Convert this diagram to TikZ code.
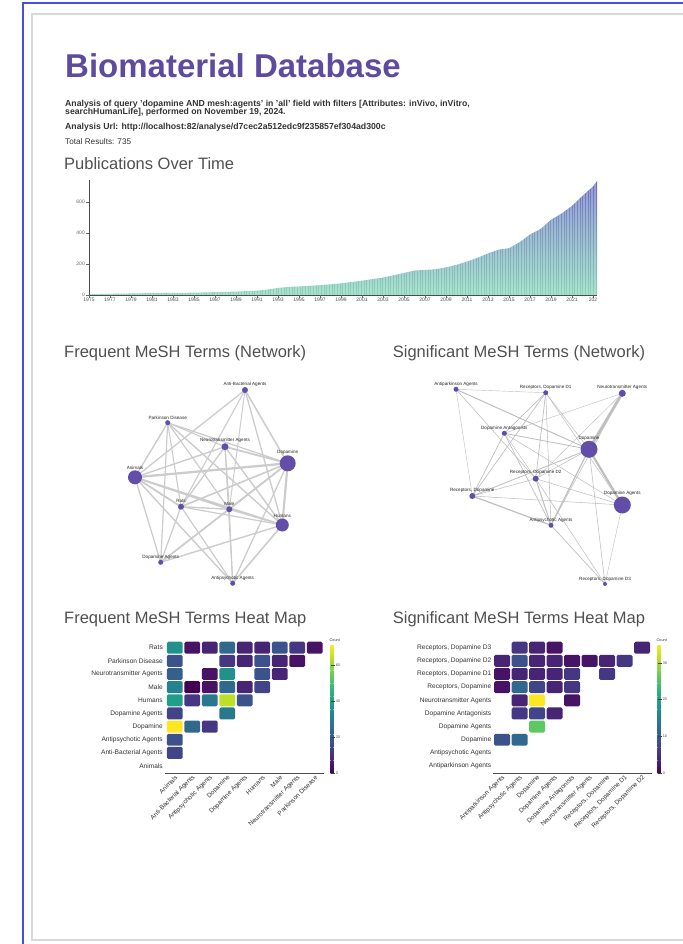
\documentclass[tikz,border=0pt]{standalone}
\usepackage{fontspec}
\setmainfont{Liberation Sans}
\usetikzlibrary{backgrounds}
\newcommand\pxf[1]{\fontsize{#1}{#1}\selectfont}
\definecolor{ttl}{RGB}{94,75,160}
\definecolor{hdr}{RGB}{80,80,80}
\definecolor{nodec}{RGB}{98,78,168}
\definecolor{frameblue}{RGB}{70,80,220}
\definecolor{vir0}{HTML}{440154}
\definecolor{vir1}{HTML}{471365}
\definecolor{vir2}{HTML}{482475}
\definecolor{vir3}{HTML}{453781}
\definecolor{vir4}{HTML}{414487}
\definecolor{vir5}{HTML}{3B528B}
\definecolor{vir6}{HTML}{355F8D}
\definecolor{vir7}{HTML}{31688E}
\definecolor{vir8}{HTML}{2A788E}
\definecolor{vir9}{HTML}{26828E}
\definecolor{vir10}{HTML}{21918C}
\definecolor{vir11}{HTML}{1F9E89}
\definecolor{vir12}{HTML}{22A884}
\definecolor{vir13}{HTML}{35B779}
\definecolor{vir14}{HTML}{44BF70}
\definecolor{vir15}{HTML}{5EC962}
\definecolor{vir16}{HTML}{7AD151}
\definecolor{vir17}{HTML}{9FDA3A}
\definecolor{vir18}{HTML}{BDDF26}
\definecolor{vir19}{HTML}{DFE318}
\definecolor{vir20}{HTML}{FDE725}
\definecolor{barlow}{HTML}{88D5B8}
\definecolor{barmid}{HTML}{5CC3C2}
\definecolor{bartop}{HTML}{6C6EC4}
\begin{document}
\begin{tikzpicture}[x=1pt,y=-1pt,
  ttlstyle/.style={anchor=base west, inner sep=0, text=ttl, font=\bfseries\pxf{33}},
  subline/.style={anchor=base west, inner sep=0, text=black!80, font=\bfseries\pxf{8.7}},
  plainline/.style={anchor=base west, inner sep=0, text=black!80, font=\pxf{8.2}},
  sect/.style={anchor=base west, inner sep=0, text=hdr, font=\pxf{16.5}},
  axline/.style={draw=black!70, line width=0.8},
  ylab/.style={anchor=east, inner sep=0.5, text=black!60, font=\pxf{5}},
  xlab/.style={anchor=north, inner sep=0.5, text=black!70, font=\pxf{5}},
  net/.style={circle, fill=nodec, inner sep=0pt},
  nlab/.style={font=\pxf{4.6}, text=black!85, inner sep=0.4pt},
  fedge/.style={draw=black!20, line cap=round},
  sedge/.style={draw=black!25, line cap=round},
  rowlab/.style={anchor=east, inner sep=0, text=black!80, font=\pxf{6.6}},
  collab/.style={anchor=east, rotate=45, inner sep=0, text=black!80, font=\pxf{6.4}},
  cbtick/.style={anchor=west, inner sep=0, text=black!70, font=\pxf{3.8}},
  cbtitle/.style={anchor=base west, inner sep=0, text=black!80, font=\pxf{3.8}}
]
\useasboundingbox (0,0) rectangle (682,944);
% frames
\draw[frameblue, line width=1.5] (23,944) -- (23,3) -- (690,3);
\draw[black!15, line width=2] (690,14) -- (32,14) -- (32,940) -- (690,940);

% header
\node[ttlstyle] (title) at (65,78) {Biomaterial Database};
\node[subline] (q1) at (65,107) {Analysis of query 'dopamine AND mesh:agents' in 'all' field with filters [Attributes: inVivo, inVitro,};
\node[subline] (q2) at (65,115) {searchHumanLife], performed on November 19, 2024.};
\node[subline] (url) at (65,130) {Analysis Url: http://localhost:82/analyse/d7cec2a512edc9f235857ef304ad300c};
\node[plainline] (tot) at (65,145) {Total Results: 735};

% publications chart
\node[sect] (pubt) at (64,170) {Publications Over Time};
\newcommand\pubcurve{(89,295) -- (89,294.2) -- (110,293.8) -- (152,293.1) -- (194,292.7) -- (236,291.6) -- (257,290.7) -- (267.5,289.6) -- (278,288.0) -- (288.5,286.9) -- (299,286.5) -- (320,285.2) -- (341,283.4) -- (362,280.7) -- (383,277.6) -- (404,273.0) -- (414.5,270.5) -- (435.5,269.3) -- (446,267.4) -- (456.5,264.8) -- (467,261.7) -- (477.5,257.8) -- (488,253.5) -- (498.5,249.7) -- (509,248.2) -- (519.5,242.3) -- (530,234.5) -- (540.5,229.1) -- (551,219.8) -- (561.5,213.6) -- (572,205.9) -- (582.5,195.8) -- (593,186.5) -- (597,181.1) -- (597,295) -- cycle}
\shade[bottom color=barlow, middle color=barmid, top color=bartop] \pubcurve;
\begin{scope}
\clip \pubcurve;
\foreach \xx in {90,91.6,...,597} \draw[white, opacity=0.3, line width=0.35] (\xx,180) -- (\xx,296);
\end{scope}
\draw[axline] (89,180) -- (89,295) -- (597,295);
\foreach \v in {0,200,400,600} {
  \draw[black!60, line width=0.4] (86,{295-\v*0.155}) -- (89,{295-\v*0.155});
  \node[ylab] at (85.5,{295-\v*0.155}) {\v};
}
\foreach \yr in {1975,1977,...,2021} {
  \draw[black!60, line width=0.4] ({89+(\yr-1975)*10.5},295) -- ({89+(\yr-1975)*10.5},297.5);
  \node[xlab] at ({89+(\yr-1975)*10.5},297.5) {\yr};
}
\draw[black!60, line width=0.4] (593,295) -- (593,297.5);
\node[xlab] at (593,297.5) {202};

% ===== Frequent network =====
\node[sect] (fnt) at (64,357.5) {Frequent MeSH Terms (Network)};
\node[net, minimum size=6, label={[nlab]above:Anti-Bacterial Agents}] (fAB) at (245,390) {};
\node[net, minimum size=5, label={[nlab]above:Parkinson Disease}] (fPD) at (167.7,422.7) {};
\node[net, minimum size=7, label={[nlab]above:Neurotransmitter Agents}] (fNA) at (225,446.7) {};
\node[net, minimum size=16, label={[nlab]above:Dopamine}] (fDO) at (287.7,463.3) {};
\node[net, minimum size=14, label={[nlab]above:Animals}] (fAN) at (135,477.3) {};
\node[net, minimum size=6, label={[nlab]above:Rats}] (fRA) at (181,506.7) {};
\node[net, minimum size=6, label={[nlab]above:Male}] (fMA) at (229.3,509.3) {};
\node[net, minimum size=13, label={[nlab]above:Humans}] (fHU) at (282.3,525) {};
\node[net, minimum size=5, label={[nlab]above:Dopamine Agents}] (fDA) at (160.7,562.3) {};
\node[net, minimum size=5, label={[nlab]above:Antipsychotic Agents}] (fAP) at (232.7,583.3) {};
\begin{pgfonlayer}{background}
\foreach \a/\b/\w in {fRA/fAN/1.8, fRA/fAB/1.1, fRA/fAP/1.2, fRA/fDO/1.6, fRA/fDA/1.25, fRA/fHU/1.2, fRA/fMA/1.4, fRA/fNA/1.3, fRA/fPD/1.1,
  fPD/fAN/1.4, fPD/fDO/1.25, fPD/fDA/1.2, fPD/fHU/1.4, fPD/fMA/1.2, fPD/fNA/1.1,
  fNA/fAN/1.4, fNA/fAP/1.1, fNA/fDO/1.8, fNA/fHU/1.4, fNA/fMA/1.2,
  fMA/fAN/1.7, fMA/fAB/1.0, fMA/fAP/1.1, fMA/fDO/1.6, fMA/fDA/1.2, fMA/fHU/1.3,
  fHU/fAN/1.8, fHU/fAB/1.3, fHU/fAP/1.6, fHU/fDO/2.2, fHU/fDA/1.4,
  fDA/fAN/1.3, fDA/fDO/1.6, fDO/fAN/2.3, fDO/fAB/1.5, fDO/fAP/1.3,
  fAP/fAN/1.4, fAB/fAN/1.3}
  \draw[fedge, line width=\w] (\a.center) -- (\b.center);
\end{pgfonlayer}

% ===== Significant network =====
\node[sect] (snt) at (392.7,357.5) {Significant MeSH Terms (Network)};
\node[net, minimum size=5, label={[nlab]above:Antiparkinson Agents}] (sAPK) at (456,389.3) {};
\node[net, minimum size=5, label={[nlab]above:{Receptors, Dopamine D1}}] (sD1) at (545.7,392.7) {};
\node[net, minimum size=7, label={[nlab]above:Neurotransmitter Agents}] (sNT) at (622.3,393.3) {};
\node[net, minimum size=5, label={[nlab]above:Dopamine Antagonists}] (sDAN) at (504.3,433.3) {};
\node[net, minimum size=17, label={[nlab]above:Dopamine}] (sDOP) at (589,449.3) {};
\node[net, minimum size=6, label={[nlab]above:{Receptors, Dopamine D2}}] (sD2) at (535.7,478.7) {};
\node[net, minimum size=6, label={[nlab]above:{Receptors, Dopamine}}] (sRD) at (472.3,496) {};
\node[net, minimum size=17, label={[nlab]above:Dopamine Agents}] (sDAG) at (622.3,505) {};
\node[net, minimum size=5, label={[nlab]above:Antipsychotic Agents}] (sAPS) at (551,525.3) {};
\node[net, minimum size=4, label={[nlab]above:{Receptors, Dopamine D3}}] (sD3) at (605,584) {};
\begin{pgfonlayer}{background}
\foreach \a/\b/\w in {sD3/sAPS/0.7, sD3/sDOP/0.55, sD3/sDAG/0.42, sD3/sD2/0.55,
  sD2/sAPK/0.55, sD2/sAPS/1.0, sD2/sDOP/0.55, sD2/sDAG/0.55, sD2/sDAN/0.42, sD2/sNT/0.42, sD2/sRD/0.55, sD2/sD1/0.7,
  sD1/sAPK/0.42, sD1/sAPS/0.55, sD1/sDOP/0.55, sD1/sDAG/0.55, sD1/sDAN/0.7, sD1/sRD/0.7,
  sRD/sAPK/0.42, sRD/sAPS/1.2, sRD/sDOP/0.85, sRD/sDAG/0.55, sRD/sDAN/0.7,
  sNT/sAPS/0.55, sNT/sDOP/2.8, sNT/sDAN/0.42,
  sDAN/sAPS/0.7, sDAN/sDOP/0.85, sDAN/sDAG/0.55,
  sDAG/sDOP/2.2, sDOP/sAPK/1.0, sDOP/sAPS/1.2}
  \draw[sedge, line width=\w] (\a.center) -- (\b.center);
\end{pgfonlayer}

% ===== Frequent heat map =====
\node[sect] (fht) at (64,623.3) {Frequent MeSH Terms Heat Map};
\foreach \r/\c/\v in {0/0/10, 0/1/1, 0/2/2, 0/3/7, 0/4/2, 0/5/2, 0/6/5, 0/7/3, 0/8/1,
  1/0/5, 1/3/3, 1/4/2, 1/5/5, 1/6/2, 1/7/1,
  2/0/6, 2/2/1, 2/3/10, 2/5/5, 2/6/2,
  3/0/9, 3/1/0, 3/2/1, 3/3/7, 3/4/2, 3/5/4,
  4/0/11, 4/1/3, 4/2/8, 4/3/18, 4/4/5,
  5/0/4, 5/3/8,
  6/0/20, 6/1/7, 6/2/3,
  7/0/5, 8/0/4}
  \fill[fill=vir\v, rounded corners=1.5] ({166+\c*17.5+0.8},{641.1+\r*13.15+0.6}) rectangle ++(15.9,11.95);
\foreach \n [count=\i from 0] in {Rats, Parkinson Disease, Neurotransmitter Agents, Male, Humans, Dopamine Agents, Dopamine, Antipsychotic Agents, Anti-Bacterial Agents, Animals}
  \node[rowlab] (fr\i) at (163,{647.7+\i*13.15}) {\n};
\draw[black!70, line width=0.5] (165,773) -- (323.5,773);
\foreach \n [count=\i from 0] in {Animals, Anti-Bacterial Agents, Antipsychotic Agents, Dopamine, Dopamine Agents, Humans, Male, Neurotransmitter Agents, Parkinson Disease}
  \node[collab] (fc\i) at ({166+\i*17.5+10.5},776.5) {\n};
\foreach \k [evaluate=\k as \ca using int(2*\k), evaluate=\k as \cb using int(2*\k+2)] in {0,...,9}
  \shade[bottom color=vir\ca, top color=vir\cb] (330.5,{773-\k*12.8+0.2}) rectangle (333.3,{773-(\k+1)*12.8});
\foreach \v in {0,20,40,60} {
  \draw[black!75, line width=0.5] (330.5,{773-\v*1.795}) -- (335,{773-\v*1.795});
  \node[cbtick] at (335.6,{773-\v*1.795}) {\v};
}
\node[cbtitle] (fcount) at (329.5,641) {Count};

% ===== Significant heat map =====
\node[sect] (sht) at (392.7,623.3) {Significant MeSH Terms Heat Map};
\foreach \r/\c/\v in {0/1/3, 0/2/2, 0/3/1, 0/8/2,
  1/0/2, 1/1/5, 1/2/2, 1/3/2, 1/4/1, 1/5/1, 1/6/2, 1/7/3,
  2/0/1, 2/1/2, 2/2/2, 2/3/2, 2/4/3, 2/6/3,
  3/0/1, 3/1/7, 3/2/4, 3/3/2, 3/4/3,
  4/1/2, 4/2/20, 4/4/1,
  5/1/3, 5/2/4, 5/3/2,
  6/2/15,
  7/0/5, 7/1/7}
  \fill[fill=vir\v, rounded corners=1.5] ({493.3+\c*17.5+0.8},{641.1+\r*13.15+0.6}) rectangle ++(15.9,11.95);
\foreach \n [count=\i from 0] in {{Receptors, Dopamine D3}, {Receptors, Dopamine D2}, {Receptors, Dopamine D1}, {Receptors, Dopamine}, Neurotransmitter Agents, Dopamine Antagonists, Dopamine Agents, Dopamine, Antipsychotic Agents, Antiparkinson Agents}
  \node[rowlab] (sr\i) at (491.5,{647.7+\i*13.15}) {\n};
\draw[black!70, line width=0.5] (493,773) -- (652,773);
\foreach \n [count=\i from 0] in {Antiparkinson Agents, Antipsychotic Agents, Dopamine, Dopamine Agents, Dopamine Antagonists, Neurotransmitter Agents, {Receptors, Dopamine}, {Receptors, Dopamine D1}, {Receptors, Dopamine D2}}
  \node[collab] (sc\i) at ({493.3+\i*17.5+10.5},776.5) {\n};
\foreach \k [evaluate=\k as \ca using int(2*\k), evaluate=\k as \cb using int(2*\k+2)] in {0,...,9}
  \shade[bottom color=vir\ca, top color=vir\cb] (657.5,{773-\k*12.8+0.2}) rectangle (660.5,{773-(\k+1)*12.8});
\foreach \v in {0,10,20,30} {
  \draw[black!75, line width=0.5] (657.5,{773-\v*3.667}) -- (662,{773-\v*3.667});
  \node[cbtick] at (662.6,{773-\v*3.667}) {\v};
}
\node[cbtitle] (scount) at (656.5,641) {Count};
\end{tikzpicture}
\end{document}
